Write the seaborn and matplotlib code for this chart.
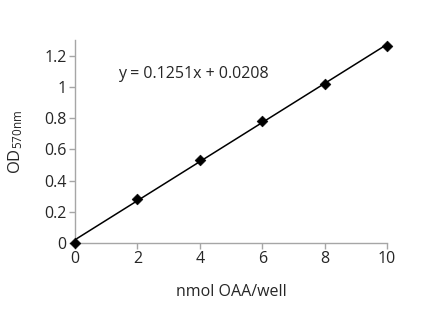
import matplotlib
matplotlib.use("Agg")
import matplotlib.pyplot as plt
import seaborn as sns
import numpy as np
import pandas as pd

# Standard curve: OAA amount vs absorbance at 570 nm
nmol_oaa = [0, 2, 4, 6, 8, 10]
od570 = [0.0, 0.28, 0.53, 0.78, 1.02, 1.26]
slope = 0.1251
intercept = 0.0208
x_ticks = [0, 2, 4, 6, 8, 10]
y_ticks = [0, 0.2, 0.4, 0.6, 0.8, 1.0, 1.2]
y_tick_labels = ["0", "0.2", "0.4", "0.6", "0.8", "1", "1.2"]

sns.set_style("white")
plt.rcParams["font.family"] = ["Open Sans", "DejaVu Sans"]
plt.rcParams["mathtext.default"] = "regular"

df = pd.DataFrame({"nmol": nmol_oaa, "od": od570})
fit_x = np.array([min(nmol_oaa), max(nmol_oaa)])
fit_df = pd.DataFrame({"nmol": fit_x, "od": slope * fit_x + intercept})

fig = plt.figure(figsize=(4.37, 3.35), dpi=100)
ax = fig.add_axes([0.1716, 0.2746, 0.714, 0.606])

sns.lineplot(data=fit_df, x="nmol", y="od", ax=ax, color="black", linewidth=1.1)
sns.scatterplot(data=df, x="nmol", y="od", ax=ax, marker="D", color="black",
                s=30, edgecolor="black", zorder=3, clip_on=False)

ax.set_xlim(0, 10)
ax.set_ylim(0, 1.3)
ax.set_xticks(x_ticks)
ax.set_xticklabels([str(v) for v in x_ticks])
ax.set_yticks(y_ticks)
ax.set_yticklabels(y_tick_labels)

for side in ["top", "right"]:
    ax.spines[side].set_visible(False)
for side in ["left", "bottom"]:
    ax.spines[side].set_color("#a6a6a6")
    ax.spines[side].set_linewidth(1.0)

ax.tick_params(axis="both", which="major", direction="out", length=4,
               width=1.0, color="#a6a6a6", labelsize=11.5, labelcolor="#262626",
               pad=2, left=True, bottom=True)

ax.set_xlabel("nmol OAA/well", fontsize=11.5, color="#262626", labelpad=12)
ax.set_ylabel("OD$_{570nm}$", fontsize=12, color="#262626", labelpad=14)

ax.text(1.38, 1.085, f"y = {slope}x + {intercept}", fontsize=11.5,
        color="#262626", va="center", ha="left")

fig.savefig("out.png", dpi=100)
